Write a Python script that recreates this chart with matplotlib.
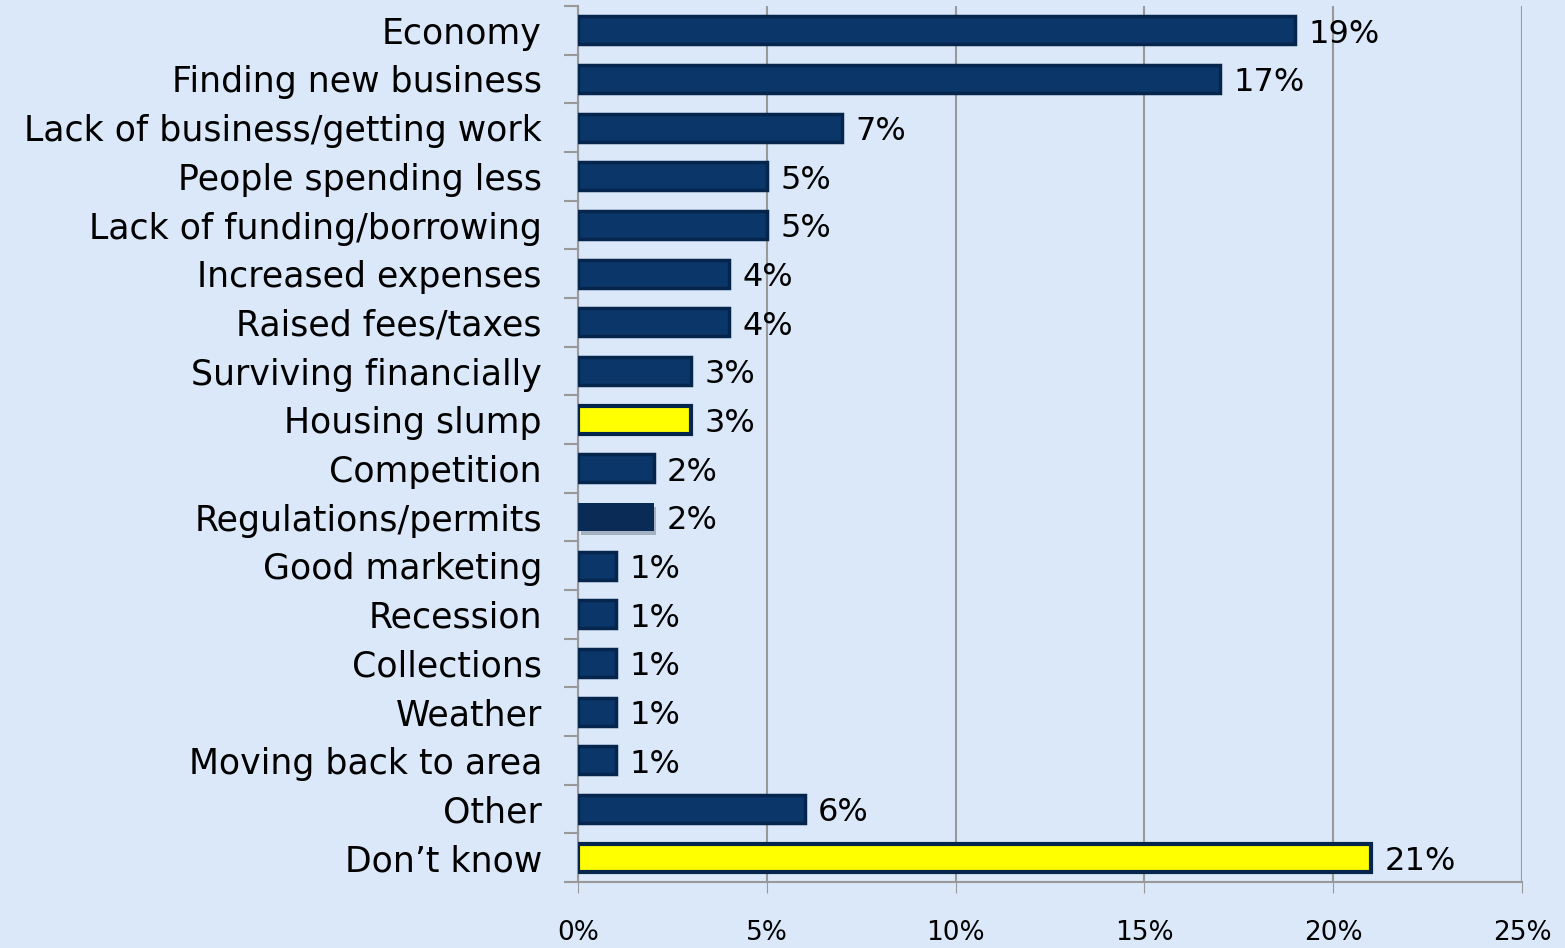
import matplotlib.pyplot as plt
import matplotlib.patheffects as pe
import numpy as np

categories = ['Economy', 'Finding new business', 'Lack of business/getting work',
              'People spending less', 'Lack of funding/borrowing', 'Increased expenses',
              'Raised fees/taxes', 'Surviving financially', 'Housing slump', 'Competition',
              'Regulations/permits', 'Good marketing', 'Recession', 'Collections',
              'Weather', 'Moving back to area', 'Other', 'Don\u2019t know']
values = [19, 17, 7, 5, 5, 4, 4, 3, 3, 2, 2, 1, 1, 1, 1, 1, 6, 21]
highlight = ['Housing slump', 'Don\u2019t know']
xticks = [0, 5, 10, 15, 20, 25]

bg = '#dae8f9'
navy = '#0b3669'
edge = '#06254d'

plt.rcParams['font.family'] = ['DejaVu Sans']

fig = plt.figure(figsize=(15.65, 9.48), dpi=100, facecolor=bg)
ax = fig.add_axes([578 / 1565, 1 - 882 / 948, (1522 - 578) / 1565, (882 - 6) / 948])
ax.set_facecolor(bg)

y = np.arange(len(categories))
for yi, cat, v in zip(y, categories, values):
    if cat in highlight:
        ax.barh(yi, v, height=0.58, color='#ffff00', edgecolor=edge, linewidth=3, zorder=3)
    elif cat == 'Regulations/permits':
        bar = ax.barh(yi, v, height=0.58, color='#0a2b55', linewidth=0, zorder=3)
        for p in bar:
            p.set_path_effects([pe.SimplePatchShadow(offset=(2, -3), alpha=0.25), pe.Normal()])
    else:
        ax.barh(yi, v, height=0.58, color=navy, edgecolor=edge, linewidth=2.5, zorder=3)
    ax.text(v + 0.35, yi + 0.08, f'{v}%', va='center', ha='left', fontsize=23, color='black')

ax.set_ylim(len(categories) - 0.5, -0.5)
ax.set_xlim(0, 25)
ax.set_xticks(xticks)
ax.set_xticklabels([f'{t}%' for t in xticks], fontsize=19)
ax.tick_params(axis='x', length=8, color='#999999', pad=19, direction='out')

# category names centred on bars, tick marks between them
ax.set_yticks(y)
ax.set_yticklabels(categories, fontsize=25)
ax.tick_params(axis='y', which='major', length=0, pad=26)
ax.set_yticks(np.arange(-0.5, len(categories), 1), minor=True)
ax.tick_params(axis='y', which='minor', length=10, color='#999999', width=1.5)

ax.grid(axis='x', color='#999999', linewidth=1.5, zorder=0)
for s in ['top', 'right']:
    ax.spines[s].set_visible(False)
for s in ['left', 'bottom']:
    ax.spines[s].set_color('#999999')
    ax.spines[s].set_linewidth(1.5)

fig.savefig('out.png', dpi=100, facecolor=bg)
